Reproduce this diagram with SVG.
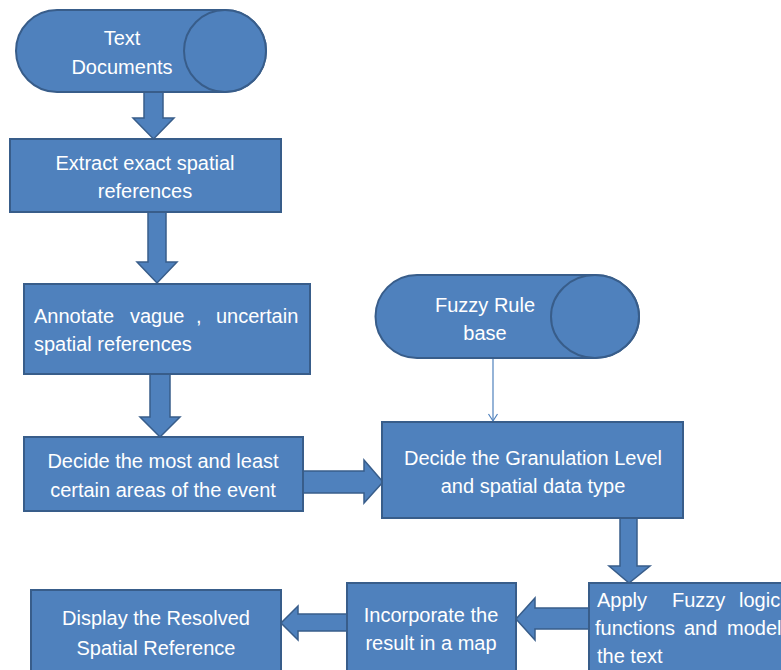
<svg xmlns="http://www.w3.org/2000/svg" width="781" height="670" viewBox="0 0 781 670">
<defs>
<style>
.shape{fill:#4F81BD;stroke:#385D8A;stroke-width:2}
.barrow{fill:#4F81BD;stroke:#385D8A;stroke-width:1.5;stroke-linejoin:miter}
text{font-family:"Liberation Sans","DejaVu Sans",sans-serif;font-size:20px;fill:#FFFFFF}
.c{text-anchor:middle}
</style>
<marker id="chev" markerWidth="12" markerHeight="12" refX="10" refY="6" orient="auto" markerUnits="userSpaceOnUse" viewBox="0 0 12 12">
<path d="M3,1.5 L10,6 L3,10.5" fill="none" stroke="#4F81BD" stroke-width="1.2"/>
</marker>
</defs>
<rect width="781" height="670" fill="#FFFFFF"/>

<g id="connectors">
<polygon class="barrow" points="144,92 163,92 163,118 174,118 153.5,139 133,118 144,118"/>
<polygon class="barrow" points="148,212 166,212 166,262 177,262 157,283 137,262 148,262"/>
<polygon class="barrow" points="150,374 170,374 170,417 180,417 160,437 140,417 150,417"/>
<polygon class="barrow" points="303,471 364,471 364,460 383,482 364,503 364,493 303,493"/>
<line x1="493" y1="358" x2="493" y2="421" stroke="#4F81BD" stroke-width="1.2" marker-end="url(#chev)"/>
<polygon class="barrow" points="620,518 637,518 637,566 650,566 629,583 609,566 620,566"/>
<polygon class="barrow" points="589,608 535,608 535,598 516,619 535,640 535,629 589,629"/>
<polygon class="barrow" points="347,614 298,614 298,606 281,623 298,640 298,631 347,631"/>
</g>

<g id="text-documents">
<path class="shape" d="M57,10 H225 A41,41 0 0 1 225,92 H57 A41,41 0 0 1 57,10 Z"/>
<ellipse class="shape" cx="225" cy="51" rx="41" ry="41"/>
<text class="c" x="122" y="45">Text</text>
<text class="c" x="122" y="74">Documents</text>
</g>

<g id="extract">
<rect class="shape" x="10" y="139" width="271" height="73"/>
<text class="c" x="145" y="170">Extract exact spatial</text>
<text class="c" x="145" y="198">references</text>
</g>

<g id="annotate">
<rect class="shape" x="24" y="284" width="286" height="90"/>
<text x="34" y="323">Annotate</text>
<text x="130" y="323">vague</text>
<text x="196" y="323">,</text>
<text x="216" y="323">uncertain</text>
<text x="34" y="351">spatial references</text>
</g>

<g id="decide-areas">
<rect class="shape" x="24" y="437" width="279" height="74"/>
<text class="c" x="163" y="468">Decide the most and least</text>
<text class="c" x="163" y="497">certain areas of the event</text>
</g>

<g id="fuzzy-rule-base">
<path class="shape" d="M417,275 H595 A44,41.5 0 0 1 595,358 H417 A41.5,41.5 0 0 1 417,275 Z"/>
<ellipse class="shape" cx="595" cy="316.5" rx="44" ry="41.5"/>
<text class="c" x="485" y="312">Fuzzy Rule</text>
<text class="c" x="485" y="340">base</text>
</g>

<g id="decide-granulation">
<rect class="shape" x="382" y="422" width="301" height="96"/>
<text class="c" x="533" y="465">Decide the Granulation Level</text>
<text class="c" x="533" y="493">and spatial data type</text>
</g>

<g id="apply-fuzzy">
<rect class="shape" x="589" y="583" width="210" height="100"/>
<text x="597" y="607">Apply</text>
<text x="672" y="607">Fuzzy</text>
<text x="739" y="607">logic</text>
<text x="595" y="635">functions</text>
<text x="684" y="635">and</text>
<text x="727" y="635">model</text>
<text x="597" y="663">the text</text>
</g>

<g id="incorporate">
<rect class="shape" x="347" y="583" width="169" height="100"/>
<text class="c" x="431" y="622">Incorporate the</text>
<text class="c" x="431" y="650">result in a map</text>
</g>

<g id="display">
<rect class="shape" x="31" y="590" width="250" height="100"/>
<text class="c" x="156" y="625">Display the Resolved</text>
<text class="c" x="156" y="655">Spatial Reference</text>
</g>
</svg>
